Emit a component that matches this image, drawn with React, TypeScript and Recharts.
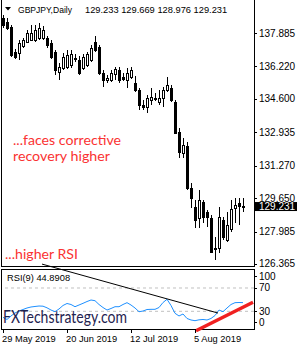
import React from "react";
import { ComposedChart, Bar, Line, XAxis, YAxis, ReferenceLine } from "recharts";

// GBPJPY daily, 29 May 2019 .. 21 Aug 2019 (one entry per trading day)
const opens = [
  138.63, 138.43, 138.19, 136.94, 136.89, 137.24, 137.44, 137.54, 137.54, 137.64,
  137.64, 137.64, 137.39, 136.94, 135.94, 136.14, 136.19, 136.29, 136.64, 136.54,
  136.14, 136.29, 136.54, 137.44, 137.19, 135.89, 135.54, 135.54, 135.84, 136.04,
  135.69, 135.54, 135.69, 135.39, 135.04, 134.3, 134.2, 134.55, 134.64, 134.45,
  134.64, 135.04, 135.14, 134.45, 132.95, 131.9, 132.25, 130.16, 129.21, 128.66,
  129.46, 128.96, 128.66, 127.16, 127.16, 128.56, 127.56, 128.11, 129.16, 129.41,
  129.233,
];
const highs = [
  138.78, 138.63, 138.29, 137.09, 137.54, 137.64, 138.04, 138.29, 138.29, 138.38,
  138.24, 137.74, 137.54, 137.04, 136.39, 136.89, 137.04, 137.04, 136.84, 136.74,
  136.84, 136.94, 137.29, 137.74, 137.29, 136.04, 135.79, 136.04, 136.19, 136.19,
  135.89, 136.14, 136.19, 135.74, 135.14, 134.55, 134.79, 135.14, 134.89, 135.04,
  135.19, 135.69, 135.29, 134.55, 133.15, 132.65, 132.45, 130.41, 129.56, 130.06,
  129.56, 129.06, 128.81, 127.71, 129.21, 128.71, 128.96, 129.56, 129.66, 129.66,
  129.669,
];
const lows = [
  138.14, 138.04, 136.69, 136.59, 136.54, 137.14, 137.39, 137.49, 137.44, 137.54,
  137.54, 137.14, 136.59, 135.79, 135.54, 136.04, 136.09, 136.14, 136.44, 135.79,
  136.04, 136.19, 136.44, 136.94, 135.79, 135.19, 135.39, 135.44, 135.54, 135.39,
  135.49, 135.14, 135.59, 134.94, 134.05, 134.05, 133.9, 134.3, 134.5, 134.3,
  134.2, 134.94, 134.45, 132.85, 131.65, 131.65, 130.06, 129.16, 128.16, 128.16,
  128.41, 128.21, 126.91, 126.57, 126.91, 127.56, 127.46, 127.96, 128.41, 128.31,
  128.976,
];
const closes = [
  138.29, 138.14, 136.79, 136.69, 137.39, 137.54, 137.89, 137.89, 138.04, 138.14,
  138.04, 137.29, 136.69, 136.04, 136.19, 136.69, 136.79, 136.84, 136.59, 135.89,
  136.69, 136.84, 137.14, 137.04, 135.89, 135.54, 135.64, 135.89, 136.09, 135.54,
  135.59, 135.89, 136.04, 135.04, 134.3, 134.2, 134.64, 134.69, 134.59, 134.64,
  135.04, 135.29, 134.55, 132.9, 131.95, 132.3, 130.16, 129.66, 128.56, 129.56,
  128.71, 128.71, 126.96, 127.11, 128.71, 127.71, 128.31, 129.11, 129.31, 129.26,
  129.231,
];
const rsi9 = [
  19.7, 16.0, 22.0, 27.1, 30.5, 33.1, 35.7, 37.4, 38.3, 39.1,
  38.8, 36.0, 32.2, 29.3, 34.0, 40.0, 43.4, 41.7, 37.9, 40.8,
  43.7, 46.8, 49.4, 48.2, 41.7, 36.5, 32.2, 34.8, 37.9, 37.9,
  41.7, 44.8, 40.8, 35.7, 29.3, 30.5, 33.1, 33.4, 33.4, 36.5,
  45.1, 50.6, 40.0, 26.6, 22.0, 25.4, 17.7, 15.1, 13.9, 15.4,
  16.0, 15.1, 17.7, 22.8, 32.2, 29.3, 35.7, 41.7, 44.8, 45.1,
  44.8908,
];

const priceTicks = [126.365, 127.985, 129.65, 131.27, 132.935, 134.6, 136.22, 137.885];
const rsiTicks = [0, 30, 70, 100];
const rsiLevels = [30, 70];
const dateTicks = [0, 16, 32, 48];
const dateLabels = ["29 May 2019", "20 Jun 2019", "12 Jul 2019", "5 Aug 2019"];

// hand drawn trend lines on the RSI window (bar index, RSI value)
const rsiResistance = [{ x: 9.75, y: 111 }, { x: 53.75, y: 27 }];
const rsiSupport = [{ x: 48.25, y: -3.3 }, { x: 62.5, y: 45.5 }];

const last = closes.length - 1;
const lastClose = closes[last];

const rows = closes.map((c, i) => ({
  i,
  open: opens[i],
  high: highs[i],
  low: lows[i],
  close: c,
  rsi: rsi9[i],
}));

const MT_FONT = "'Liberation Sans', Arial, sans-serif";
const NOTE_FONT = "Lato, 'Open Sans', sans-serif";
const X_DOMAIN: [number, number] = [-0.25, 62.75];

function Candle(props: any) {
  const { x, y, width, height, payload } = props;
  if (x == null || !payload) return null;
  const { open, close, high, low } = payload;
  const top = Math.min(y, y + height);
  const h = Math.abs(height);
  const cx = Math.round(x + width / 2);
  const span = high - low || 1;
  const py = (v: number) => top + ((high - v) / span) * h;
  const bTop = Math.round(py(Math.max(open, close)));
  const bBot = Math.round(py(Math.min(open, close)));
  const up = close > open;
  return (
    <g shapeRendering="crispEdges">
      <line x1={cx + 0.5} x2={cx + 0.5} y1={Math.round(top)} y2={Math.round(top + h)} stroke="#000" />
      {bBot - bTop < 1 ? (
        <line x1={cx - 1} x2={cx + 2} y1={bTop + 0.5} y2={bTop + 0.5} stroke="#000" />
      ) : (
        <rect x={cx - 0.5} y={bTop + 0.5} width={2} height={bBot - bTop} fill={up ? "#fff" : "#000"} stroke="#000" />
      )}
    </g>
  );
}

function PriceTick(props: any) {
  const { x, y, payload } = props;
  const v = payload.value;
  if (v === lastClose) {
    return (
      <g>
        <rect x={x - 4} y={y - 4.5} width={42} height={9} fill="#000" />
        <text x={x} y={y + 3.5} fontSize={10} fill="#fff" fontFamily={MT_FONT}>
          {v.toFixed(3)}
        </text>
      </g>
    );
  }
  const ly = Math.round(y) + 0.5;
  return (
    <g>
      <line x1={x - 5} x2={x - 2} y1={ly} y2={ly} stroke="#000" shapeRendering="crispEdges" />
      <text x={x} y={y + 3.5} fontSize={10} fill="#000" fontFamily={MT_FONT}>
        {v.toFixed(3)}
      </text>
    </g>
  );
}

function RsiTick(props: any) {
  const { x, y, payload } = props;
  const v = payload.value;
  // MT4 pushes the end labels inside the window
  const shift = v === 100 ? 5.5 : v === 0 ? -6.8 : 0;
  const ly = Math.round(y + shift) + 0.5;
  return (
    <g>
      <line x1={x - 5} x2={x - 2} y1={ly} y2={ly} stroke="#000" shapeRendering="crispEdges" />
      <text x={x} y={y + shift + 3.5} fontSize={10} fill="#000" fontFamily={MT_FONT}>
        {v}
      </text>
    </g>
  );
}

function DateTick(props: any) {
  const { x, y, payload } = props;
  const k = dateTicks.indexOf(payload.value);
  const lx = Math.round(x) + 0.5;
  return (
    <g>
      <line x1={lx} x2={lx} y1={y - 4} y2={y} stroke="#000" shapeRendering="crispEdges" />
      <text x={x - 1} y={y + 9.5} fontSize={9.3} fill="#000" fontFamily={MT_FONT}>
        {dateLabels[k]}
      </text>
    </g>
  );
}

export default function App() {
  const title = [opens[last], highs[last], lows[last], closes[last]].map((v) => v.toFixed(3)).join(" ");
  return (
    <div
      style={{
        position: "absolute",
        left: 0,
        top: 0,
        width: 300,
        height: 350,
        background: "#fff",
        overflow: "hidden",
      }}
    >
      <div style={{ position: "absolute", left: 0, top: 0 }}>
        <ComposedChart width={300} height={273} data={rows} margin={{ top: 0, right: 0, bottom: 7, left: 2 }}>
          <XAxis type="number" dataKey="i" domain={X_DOMAIN} allowDataOverflow hide />
          <YAxis
            orientation="right"
            width={46}
            domain={[126.265, 139.532]}
            allowDataOverflow
            ticks={[...priceTicks, lastClose]}
            interval={0}
            tickSize={3}
            tickMargin={2}
            tickLine={false}
            axisLine={false}
            tick={(p: any) => <PriceTick {...p} />}
          />
          <Bar
            dataKey={(d: any) => [d.low, d.high]}
            barSize={4}
            shape={(p: any) => <Candle {...p} />}
            isAnimationActive={false}
          />
        </ComposedChart>
      </div>

      <div style={{ position: "absolute", left: 1, top: -1, width: 252, height: 266, border: "1px solid #000" }} />
      <div style={{ position: "absolute", left: 1, top: 269, width: 252, height: 59, border: "1px solid #000" }} />

      <div style={{ position: "absolute", left: 0, top: 258 }}>
        <ComposedChart width={300} height={92} data={rows} margin={{ top: 12.5, right: 0, bottom: 0, left: 2 }}>
          <XAxis
            type="number"
            dataKey="i"
            domain={X_DOMAIN}
            allowDataOverflow
            ticks={dateTicks}
            interval={0}
            height={21.2}
            tickSize={4}
            tickMargin={0}
            tickLine={false}
            axisLine={false}
            tick={(p: any) => <DateTick {...p} />}
          />
          <YAxis
            orientation="right"
            width={46}
            domain={[0, 100]}
            allowDataOverflow
            ticks={rsiTicks}
            interval={0}
            tickSize={3}
            tickMargin={2}
            tickLine={false}
            axisLine={false}
            tick={(p: any) => <RsiTick {...p} />}
          />
          {rsiLevels.map((lv) => (
            <ReferenceLine key={lv} y={lv} stroke="#c0c0c0" strokeDasharray="3 3" />
          ))}
          <Line
            type="linear"
            dataKey="rsi"
            stroke="#1e90ff"
            strokeWidth={1}
            dot={false}
            isAnimationActive={false}
          />
          <ReferenceLine segment={rsiResistance} stroke="#000" strokeWidth={1} ifOverflow="visible" />
          <ReferenceLine segment={rsiSupport} stroke="#f02020" strokeWidth={3.5} ifOverflow="visible" />
        </ComposedChart>
      </div>

      <svg
        width={300}
        height={350}
        style={{ position: "absolute", left: 0, top: 0, pointerEvents: "none" }}
      >
        <polygon points="5,7 11,7 8,10.5" fill="#000" />
        <text x={18} y={12.5} fontSize={9.3} fontFamily={MT_FONT} fill="#000" textLength={54} lengthAdjust="spacingAndGlyphs">
          GBPJPY,Daily
        </text>
        <text x={85} y={12.5} fontSize={9.3} fontFamily={MT_FONT} fill="#000">
          {title}
        </text>

        <text x={13} y={145} fontSize={13} fontFamily={NOTE_FONT} fill="#fa3232" textLength={108} lengthAdjust="spacingAndGlyphs">
          ...faces corrective
        </text>
        <text x={13} y={161} fontSize={13} fontFamily={NOTE_FONT} fill="#fa3232" textLength={97} lengthAdjust="spacingAndGlyphs">
          recovery higher
        </text>
        <text x={5} y={259} fontSize={13} fontFamily={NOTE_FONT} fill="#fa3232" textLength={73} lengthAdjust="spacingAndGlyphs">
          ...higher RSI
        </text>

        <text x={7} y={280.5} fontSize={9.3} fontFamily={MT_FONT} fill="#000">
          {`RSI(9) ${rsi9[last].toFixed(4)}`}
        </text>
        <text x={3} y={322.5} fontSize={17} fontFamily={NOTE_FONT} fill="#1f2350" textLength={124} lengthAdjust="spacingAndGlyphs">
          FXTechstrategy.com
        </text>
      </svg>
    </div>
  );
}
